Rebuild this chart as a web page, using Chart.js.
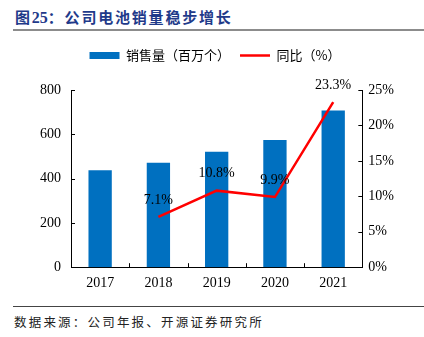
<!DOCTYPE html>
<html>
<head>
<meta charset="utf-8">
<script src="https://cdn.jsdelivr.net/npm/chart.js@4"></script>
<style>
  html, body { margin: 0; padding: 0; background: #fff; }
  body { width: 424px; height: 337px; position: relative; overflow: hidden; font-family: "Noto Sans CJK SC", sans-serif; }
  #title { position: absolute; left: 15px; top: 6px; font-size: 15px; font-weight: bold; color: #1F3A8A; letter-spacing: 1.8px; }
  #title .num { font-family: "Liberation Serif", serif; font-size: 16px; letter-spacing: 0; }
  #rule1 { position: absolute; left: 13px; right: 0; top: 29px; height: 2px; background: #8c8c8c; }
  #rule2 { position: absolute; left: 13px; right: 0; top: 306px; height: 1px; background: #444; }
  #source { position: absolute; left: 14px; top: 312px; font-size: 12.5px; color: #222; letter-spacing: 2.2px; }
  #wrap { position: absolute; left: 0; top: 36px; width: 424px; height: 264px; }
</style>
</head>
<body>
<div id="title">图<span class="num">25</span>：公司电池销量稳步增长</div>
<div id="rule1"></div>
<div id="wrap"><canvas id="myChart"></canvas></div>
<div id="rule2"></div>
<div id="source">数据来源：公司年报、开源证券研究所</div>
<script>
// chart data
const years = ['2017', '2018', '2019', '2020', '2021'];
const sales = [438, 471, 521, 574, 708];        // 销售量（百万个）
const yoy = [null, 7.1, 10.8, 9.9, 23.3];        // 同比（%）

const serif = '"Liberation Serif", "Times New Roman", serif';

// extra gap below the legend
const legendGap = {
    id: 'legendGap',
    beforeInit(chart) {
        const fit = chart.legend.fit;
        chart.legend.fit = function () {
            fit.bind(chart.legend)();
            this.height += 18;
        };
    }
};

// inward tick marks on all axes + point labels on the line
const extras = {
    id: 'extras',
    afterDraw(chart) {
        const ctx = chart.ctx;
        const x = chart.scales.x, y = chart.scales.y, y1 = chart.scales.y1;
        ctx.save();
        ctx.strokeStyle = '#000';
        ctx.lineWidth = 1;
        ctx.beginPath();
        for (let i = 0; i <= years.length; i++) {
            const px = Math.round(x.left + (x.right - x.left) * i / years.length) + 0.5;
            ctx.moveTo(px, x.top);
            ctx.lineTo(px, x.top - 4);
        }
        y.ticks.forEach(t => {
            const py = Math.round(y.getPixelForValue(t.value)) + 0.5;
            ctx.moveTo(y.right, py);
            ctx.lineTo(y.right + 4, py);
        });
        y1.ticks.forEach(t => {
            const py = Math.round(y1.getPixelForValue(t.value)) + 0.5;
            ctx.moveTo(y1.left, py);
            ctx.lineTo(y1.left - 4, py);
        });
        ctx.stroke();

        const meta = chart.getDatasetMeta(1);
        ctx.fillStyle = '#000';
        ctx.font = '14px ' + serif;
        ctx.textAlign = 'center';
        ctx.textBaseline = 'bottom';
        meta.data.forEach((pt, i) => {
            if (yoy[i] == null) return;
            ctx.fillText(yoy[i].toFixed(1) + '%', pt.x, pt.y - 10);
        });
        ctx.restore();
    }
};

new Chart(document.getElementById('myChart'), {
    data: {
        labels: years,
        datasets: [{
            type: 'bar',
            label: '销售量（百万个）',
            data: sales,
            backgroundColor: '#0070C0',
            borderWidth: 0,
            barPercentage: 0.4,
            categoryPercentage: 1,
            pointStyle: 'rect',
            yAxisID: 'y',
            order: 2
        }, {
            type: 'line',
            label: '同比（%）',
            data: yoy,
            borderColor: '#FF0000',
            backgroundColor: '#FF0000',
            borderWidth: 2.5,
            pointRadius: 0,
            pointStyle: 'line',
            tension: 0,
            yAxisID: 'y1',
            order: 1
        }]
    },
    options: {
        responsive: true,
        maintainAspectRatio: false,
        animation: false,
        layout: { padding: { left: 30, right: 24, top: 3, bottom: 0 } },
        plugins: {
            legend: {
                position: 'top',
                labels: {
                    usePointStyle: true,
                    pointStyleWidth: 30,
                    boxHeight: 7,
                    padding: 10,
                    color: '#000',
                    sort: (a, b) => a.datasetIndex - b.datasetIndex,
                    font: { family: '"Noto Sans CJK SC", sans-serif', size: 13 }
                }
            },
            tooltip: { enabled: false }
        },
        scales: {
            x: {
                grid: { display: false, drawTicks: false },
                border: { color: '#000' },
                ticks: { color: '#000', padding: 8, font: { family: serif, size: 14 } }
            },
            y: {
                position: 'left',
                min: 0, max: 800,
                ticks: { stepSize: 200, color: '#000', padding: 10, font: { family: serif, size: 14 } },
                grid: { display: false, drawTicks: false },
                border: { color: '#000' }
            },
            y1: {
                position: 'right',
                min: 0, max: 25,
                ticks: { stepSize: 5, color: '#000', padding: 6, callback: v => v + '%', font: { family: serif, size: 14 } },
                grid: { display: false, drawTicks: false },
                border: { color: '#000' }
            }
        }
    },
    plugins: [legendGap, extras]
});
</script>
</body>
</html>
